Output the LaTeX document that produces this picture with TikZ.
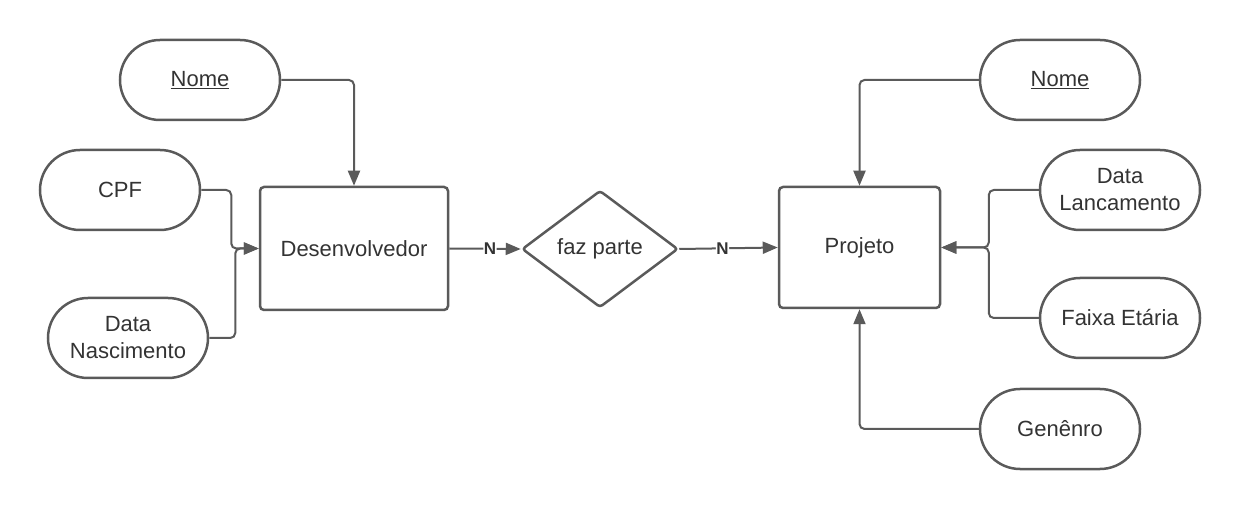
\documentclass[tikz,border=0pt]{standalone}
\usepackage{fontspec}
\setmainfont{Liberation Sans}
\usetikzlibrary{shapes.geometric,positioning}
\usetikzlibrary{arrows.meta}
\definecolor{linha}{HTML}{5A5A5A}
\definecolor{texto}{HTML}{333333}

\begin{document}
\begin{tikzpicture}[x=1pt, y=-1pt,
  every node/.append style={draw=linha, line width=2.5pt, text=texto,
    font=\fontsize{22}{27}\selectfont, align=center},
  atributo/.style={rectangle, rounded corners=40pt,
    minimum width=160pt, minimum height=80pt},
  entidade/.style={rectangle, rounded corners=4pt},
  relacao/.style={diamond, aspect=1.33, inner sep=2pt,
    minimum width=156pt, minimum height=117pt, rounded corners=3pt},
  liga/.style={draw=linha, line width=2pt, rounded corners=5pt,
    -{Triangle[length=15pt,width=12pt]}},
  card/.style={draw=none, fill=white, inner sep=0.5pt,
    font=\fontsize{17}{17}\selectfont\bfseries}
  ]
  \useasboundingbox (0,0) rectangle (1240,510);

  % lado do desenvolvedor
  \node (nome1) [atributo] at (200,80) {\underline{Nome}};
  \node (cpf) [atributo] at (120,190) {CPF};
  \node (nasc) [atributo] at (128,338) {Data\\Nascimento};
  \node (desenv) [entidade, minimum width=188pt, minimum height=123pt]
        at (354,248.5) {Desenvolvedor};

  % relacionamento
  \node (faz) [relacao] at (600,249) {faz parte};

  % lado do projeto
  \node (projeto) [entidade, minimum width=161pt, minimum height=121pt]
        at (859.5,247.5) {Projeto};
  \node (nome2) [atributo] at (1060,80) {\underline{Nome}};
  \node (lanc) [atributo] at (1120,190) {Data\\Lancamento};
  \node (faixa) [atributo] at (1120,318) {Faixa Etária};
  \node (genero) [atributo] at (1060,429) {Genênro};

  \draw[liga] (nome1.east) -| (desenv.north);
  \draw[liga] (cpf.east) -- ++(30,0) |- (desenv.west);
  \draw[liga] (nasc.east) -- ++(26,0) |- (desenv.west);
  \draw[liga] (desenv.east) -- node[card, pos=0.57] {N} (faz.west);
  \draw[liga] (faz.east) -- node[card, pos=0.44] {N} (projeto.west);
  \draw[liga] (nome2.west) -| (projeto.north);
  \draw[liga] (lanc.west) -- ++(-50,0) |- (projeto.east);
  \draw[liga] (faixa.west) -- ++(-50,0) |- (projeto.east);
  \draw[liga] (genero.west) -| (projeto.south);
\end{tikzpicture}
\end{document}
